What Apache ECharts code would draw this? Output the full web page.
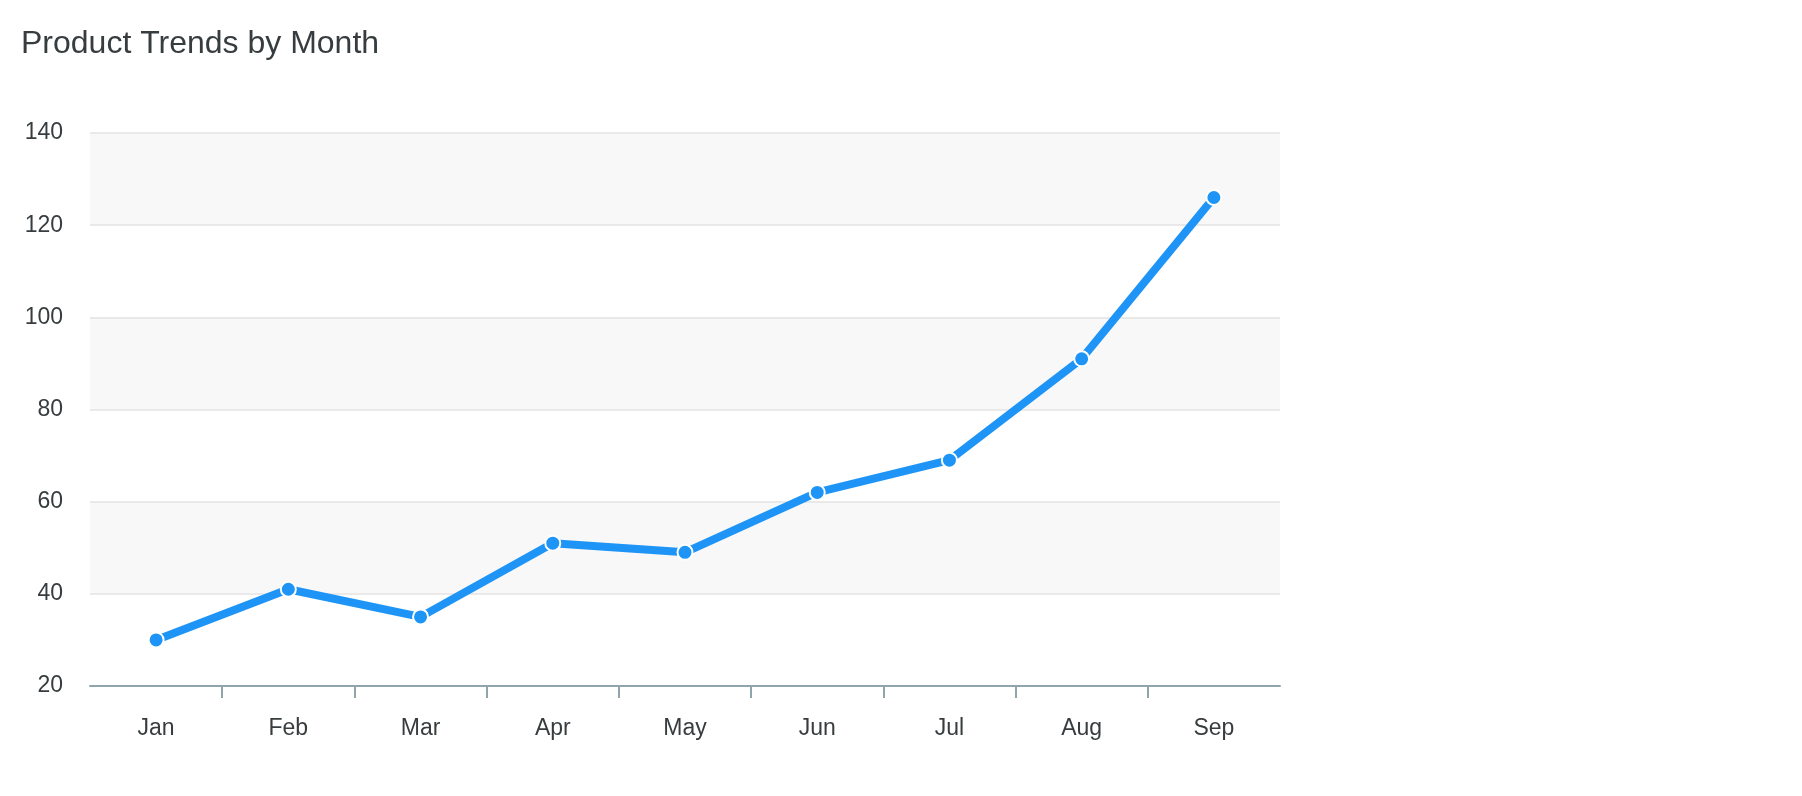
<!DOCTYPE html>
<html>
<head>
<meta charset="utf-8">
<title>Product Trends by Month</title>
<script src="https://cdn.jsdelivr.net/npm/echarts@6/dist/echarts.min.js"></script>
<style>
    html, body { margin: 0; padding: 0; background: #fff; }
    #chart { width: 1802px; height: 796px; }
</style>
</head>
<body>
<div id="chart"></div>
<script>
    // data
    var months = ['Jan', 'Feb', 'Mar', 'Apr', 'May', 'Jun', 'Jul', 'Aug', 'Sep'];
    var desktops = [30, 41, 35, 51, 49, 62, 69, 91, 126];
    var yMin = 20, yMax = 140, yStep = 20;

    var font = '"Liberation Sans", Arial, Helvetica, sans-serif';
    var lineColor = '#1E95F6';
    var axisColor = '#90a4ae';

    // boundary positions between months, used only for the inner ticks
    var boundaries = [];
    for (var i = 0; i <= months.length; i++) {
        boundaries.push('');
    }

    var myChart = echarts.init(document.getElementById('chart'));
    var option = {
        animation: false,
        title: {
            text: 'Product Trends by Month',
            left: 21,
            top: 28,
            padding: 0,
            textStyle: {
                fontFamily: font,
                fontSize: 32,
                fontWeight: 'normal',
                color: '#373d3f'
            }
        },
        grid: {
            left: 90,
            right: 522,
            top: 133,
            bottom: 110
        },
        xAxis: [
            {
                type: 'category',
                data: months,
                boundaryGap: true,
                axisLine: { lineStyle: { color: axisColor, width: 2 } },
                axisTick: { show: false },
                axisLabel: {
                    fontFamily: font,
                    fontSize: 23,
                    color: '#373d3f',
                    margin: 31
                },
                splitLine: { show: false }
            },
            {
                // tick-only axis: no ticks on the two outer edges
                type: 'category',
                position: 'bottom',
                offset: 0,
                data: boundaries,
                boundaryGap: false,
                axisLine: { show: false },
                axisLabel: { show: false },
                axisTick: {
                    show: true,
                    length: 12,
                    lineStyle: { color: axisColor, width: 2 },
                    interval: function (index) { return index > 0 && index < months.length; }
                },
                splitLine: { show: false }
            }
        ],
        yAxis: {
            type: 'value',
            min: yMin,
            max: yMax,
            interval: yStep,
            axisLine: { show: false },
            axisTick: { show: false },
            axisLabel: {
                fontFamily: font,
                fontSize: 23,
                color: '#373d3f',
                margin: 27,
                padding: [0, 0, 14, 0]
            },
            splitLine: { show: true, lineStyle: { color: '#e3e3e3', width: 1.5 } },
            splitArea: {
                show: true,
                areaStyle: { color: ['#ffffff', '#f8f8f8'] }
            }
        },
        series: [
            {
                name: 'Desktops',
                type: 'line',
                xAxisIndex: 0,
                data: desktops,
                symbol: 'circle',
                symbolSize: 15,
                showAllSymbol: true,
                lineStyle: { color: lineColor, width: 8 },
                itemStyle: { color: lineColor, borderColor: '#ffffff', borderWidth: 2 }
            }
        ]
    };
    myChart.setOption(option);
</script>
</body>
</html>
